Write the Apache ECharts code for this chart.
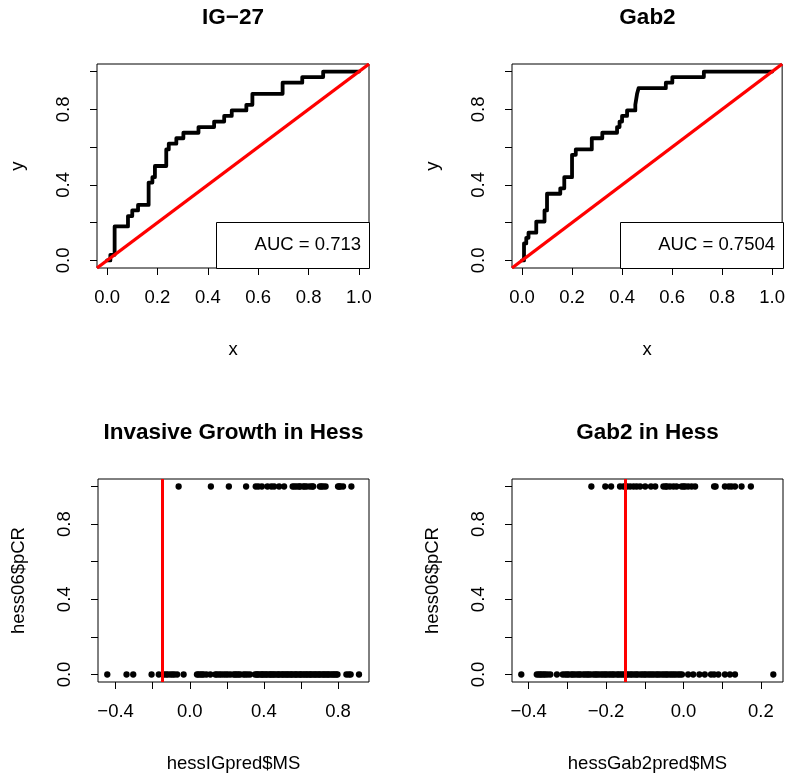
<!DOCTYPE html>
<html><head><meta charset="utf-8">
<script src="https://cdn.jsdelivr.net/npm/echarts@6/dist/echarts.min.js"></script>
<style>html,body{margin:0;padding:0;background:#fff}#c{width:788px;height:775px}</style>
</head><body><div id="c"></div>
<script>
// ---------------- data ----------------
// ROC curve vertices (false positive rate, true positive rate)
const rocIG_fpr = [0,0.013,0.013,0.03,0.03,0.083,0.083,0.10,0.10,0.123,0.123,0.165,0.165,0.18,0.18,0.19,0.19,0.235,0.235,0.245,0.245,0.275,0.275,0.303,0.303,0.363,0.363,0.425,0.425,0.465,0.465,0.495,0.495,0.553,0.553,0.577,0.577,0.697,0.697,0.775,0.775,0.858,0.858,1];
const rocIG_tpr = [0,0,0.03,0.03,0.18,0.18,0.235,0.235,0.265,0.265,0.294,0.294,0.412,0.412,0.441,0.441,0.5,0.5,0.588,0.588,0.618,0.618,0.647,0.647,0.676,0.676,0.706,0.706,0.735,0.735,0.765,0.765,0.794,0.794,0.824,0.824,0.882,0.882,0.941,0.941,0.971,0.971,1,1];
const rocGab_fpr = [0,0.008,0.008,0.017,0.017,0.026,0.026,0.057,0.057,0.09,0.09,0.10,0.10,0.153,0.153,0.169,0.169,0.20,0.20,0.215,0.215,0.279,0.279,0.321,0.321,0.38,0.38,0.39,0.39,0.40,0.40,0.42,0.42,0.453,0.453,0.46,0.46,0.466,0.466,0.575,0.575,0.601,0.601,0.727,0.727,1];
const rocGab_tpr = [0,0,0.09,0.09,0.12,0.12,0.147,0.147,0.206,0.206,0.265,0.265,0.353,0.353,0.382,0.382,0.441,0.441,0.559,0.559,0.588,0.588,0.647,0.647,0.676,0.676,0.706,0.706,0.735,0.735,0.765,0.765,0.794,0.794,0.824,0.824,0.882,0.882,0.912,0.912,0.941,0.941,0.971,0.971,1,1];
const aucIG = '0.713';
const aucGab = '0.7504';
const diagIntercept = 0, diagSlope = 1;

// Hess predictions: MS score for pCR = 1 and pCR = 0
const igPCR1 = [-0.06,0.114,0.211,0.304,0.356,0.37,0.389,0.419,0.44,0.455,0.482,0.509,0.555,0.565,0.577,0.59,0.595,0.612,0.62,0.631,0.648,0.66,0.666,0.702,0.71,0.72,0.733,0.80,0.806,0.813,0.827,0.872];
const igPCR0 = [-0.445,-0.341,-0.305,-0.206,-0.167,-0.14,-0.128,-0.118,-0.104,-0.093,-0.083,-0.068,-0.033,
  0.039,0.047,0.057,0.066,0.075,0.09,0.111,0.138,0.147,0.159,0.17,0.183,0.195,0.206,0.22,0.237,0.245,0.254,0.263,0.272,0.29,0.3,0.312,0.325,
  0.352,0.361,0.366,0.374,0.385,0.39,0.397,0.406,0.413,0.421,0.432,0.437,0.445,0.453,0.46,0.471,0.478,0.484,0.495,0.502,0.509,0.519,0.525,0.533,0.542,0.549,0.556,0.567,0.573,0.58,0.591,0.597,0.604,0.614,0.621,0.63,0.636,0.646,0.652,0.659,0.669,0.676,0.683,0.693,0.699,0.707,0.718,0.724,0.732,0.741,0.747,0.756,0.766,0.774,0.782,0.79,0.797,
  0.845,0.858,0.868,0.913];
const igCut = -0.15;

const gabPCR1 = [-0.238,-0.202,-0.187,-0.164,-0.155,-0.15,-0.146,-0.138,-0.129,-0.121,-0.112,-0.099,-0.084,-0.073,-0.052,-0.046,-0.043,-0.035,-0.026,-0.018,-0.005,0.0,0.004,0.012,0.021,0.03,0.079,0.083,0.107,0.117,0.124,0.133,0.15,0.174];
const gabPCR0 = [-0.419,-0.379,-0.374,-0.37,-0.366,-0.361,-0.357,-0.351,-0.344,-0.327,
  -0.312,-0.306,-0.301,-0.297,-0.29,-0.286,-0.281,-0.275,-0.27,-0.266,-0.259,-0.254,-0.249,-0.245,-0.24,-0.233,-0.228,-0.224,-0.219,-0.213,-0.208,-0.203,-0.199,-0.193,-0.188,-0.183,-0.179,-0.172,-0.168,-0.163,-0.158,-0.153,-0.147,-0.143,-0.137,-0.133,-0.127,-0.122,-0.118,-0.111,-0.106,-0.101,-0.097,-0.091,-0.086,-0.081,-0.076,-0.07,-0.066,-0.061,-0.055,-0.05,-0.045,-0.041,-0.035,-0.03,-0.025,-0.02,-0.014,-0.009,-0.004,
  0.012,0.025,0.041,0.055,0.071,0.079,0.09,0.107,0.12,0.133,0.232];
const gabCut = -0.15;

// axis ticks / labels
const unitTicks = [0,0.2,0.4,0.6,0.8,1.0];
const unitXLabels = [0,0.2,0.4,0.6,0.8,1.0];
const unitYLabels = [0,0.4,0.8];
const igTicks = [-0.4,-0.2,0,0.2,0.4,0.6,0.8];
const igLabels = [-0.4,0,0.4,0.8];
const gabTicks = [-0.4,-0.3,-0.2,-0.1,0,0.1,0.2];
const gabLabels = [-0.4,-0.2,0,0.2];

const titles = ['IG\u221227','Gab2','Invasive Growth in Hess','Gab2 in Hess'];
const xNames = ['x','x','hessIGpred$MS','hessGab2pred$MS'];
const yNames = ['y','y','hess06$pCR','hess06$pCR'];

// ---------------- layout ----------------
const FONT = '"Liberation Sans", Arial, Helvetica, sans-serif';
const FS = 18.5;
const grids = [
  {left:97, top:64, width:272, height:204},
  {left:512, top:64, width:271, height:204},
  {left:98, top:479, width:271, height:203},
  {left:512, top:479, width:271, height:203}
];
const xLim = [[-0.04,1.04],[-0.04,1.04],[-0.495,0.967],[-0.443,0.257]];
const yLim = [-0.04,1.04];
const xTickSets = [unitTicks, unitTicks, igTicks, gabTicks];
const xLabelSets = [unitXLabels, unitXLabels, igLabels, gabLabels];

const fmt = v => (v < -1e-9 ? '\u2212' : '') + Math.abs(v).toFixed(1);

const xAxes = grids.map((g,i)=>({
  type:'value', gridIndex:i, min:xLim[i][0], max:xLim[i][1],
  name:xNames[i], nameLocation:'middle', nameGap:72,
  nameTextStyle:{fontFamily:FONT, fontSize:FS, color:'#000'},
  axisLine:{show:false, onZero:false},
  axisTick:{show:true, length:7, lineStyle:{color:'#000', width:1}, customValues:xTickSets[i]},
  axisLabel:{show:true, customValues:xLabelSets[i], formatter:fmt, margin:20, fontFamily:FONT, fontSize:FS, color:'#000'},
  splitLine:{show:false}
}));
const yAxes = grids.map((g,i)=>({
  type:'value', gridIndex:i, min:yLim[0], max:yLim[1],
  name:yNames[i], nameLocation:'middle', nameGap:70, nameRotate:90,
  nameTextStyle:{fontFamily:FONT, fontSize:FS, color:'#000'},
  axisLine:{show:false, onZero:false},
  axisTick:{show:true, length:7, lineStyle:{color:'#000', width:1}, customValues:unitTicks},
  axisLabel:{show:true, customValues:unitYLabels, formatter:fmt, rotate:90, margin:24, fontFamily:FONT, fontSize:FS, color:'#000'},
  splitLine:{show:false}
}));

const zip = (a,b) => a.map((v,k)=>[v,b[k]]);
const diag = i => [[xLim[i][0], diagIntercept + diagSlope*xLim[i][0]],[xLim[i][1], diagIntercept + diagSlope*xLim[i][1]]];

const blackLine = {color:'#000', width:3.8, join:'round', cap:'round'};
const redLine = {color:'#ff0000', width:3.4};
const dot = {color:'#000', opacity:1};

const series = [
  {type:'line', xAxisIndex:0, yAxisIndex:0, data:zip(rocIG_fpr, rocIG_tpr), showSymbol:false, symbol:'none', lineStyle:blackLine, z:2},
  {type:'line', xAxisIndex:0, yAxisIndex:0, data:diag(0), showSymbol:false, symbol:'none', lineStyle:redLine, z:3},
  {type:'line', xAxisIndex:1, yAxisIndex:1, data:zip(rocGab_fpr, rocGab_tpr), showSymbol:false, symbol:'none', lineStyle:blackLine, z:2},
  {type:'line', xAxisIndex:1, yAxisIndex:1, data:diag(1), showSymbol:false, symbol:'none', lineStyle:redLine, z:3},
  {type:'scatter', xAxisIndex:2, yAxisIndex:2, symbolSize:6.3, itemStyle:dot,
    data: igPCR1.map(v=>[v,1]).concat(igPCR0.map(v=>[v,0])),
    markLine:{silent:true, symbol:['none','none'], label:{show:false}, lineStyle:{color:'#ff0000', width:3, type:'solid'}, data:[{xAxis:igCut}]}},
  {type:'scatter', xAxisIndex:3, yAxisIndex:3, symbolSize:6.3, itemStyle:dot,
    data: gabPCR1.map(v=>[v,1]).concat(gabPCR0.map(v=>[v,0])),
    markLine:{silent:true, symbol:['none','none'], label:{show:false}, lineStyle:{color:'#ff0000', width:3, type:'solid'}, data:[{xAxis:gabCut}]}}
];

const titleText = titles.map((t,i)=>({
  type:'text', x: grids[i].left + grids[i].width/2, y: grids[i].top - 46,
  style:{text:t, align:'center', verticalAlign:'middle', font:'bold 22.5px ' + FONT, fill:'#000'}
}));
function aucBox(i, left, label){
  const g = grids[i];
  return [
    {type:'rect', shape:{x:left+0.5, y:g.top+g.height-46+0.5, width:g.left+g.width-left, height:46}, style:{fill:'#fff', stroke:'#000', lineWidth:1}, z:100},
    {type:'text', x:g.left+g.width-8, y:g.top+g.height-23, style:{text:'AUC = ' + label, align:'right', verticalAlign:'middle', font:FS+'px '+FONT, fill:'#000'}, z:101}
  ];
}

const chart = echarts.init(document.getElementById('c'), null, {renderer:'canvas'});
chart.setOption({
  animation:false,
  backgroundColor:'#fff',
  grid: grids.map(g=>Object.assign({show:true, borderColor:'#000', borderWidth:1, backgroundColor:'transparent', containLabel:false}, g)),
  xAxis:xAxes, yAxis:yAxes, series:series,
  graphic: titleText.concat(aucBox(0, 216, aucIG), aucBox(1, 620, aucGab))
});
</script></body></html>
